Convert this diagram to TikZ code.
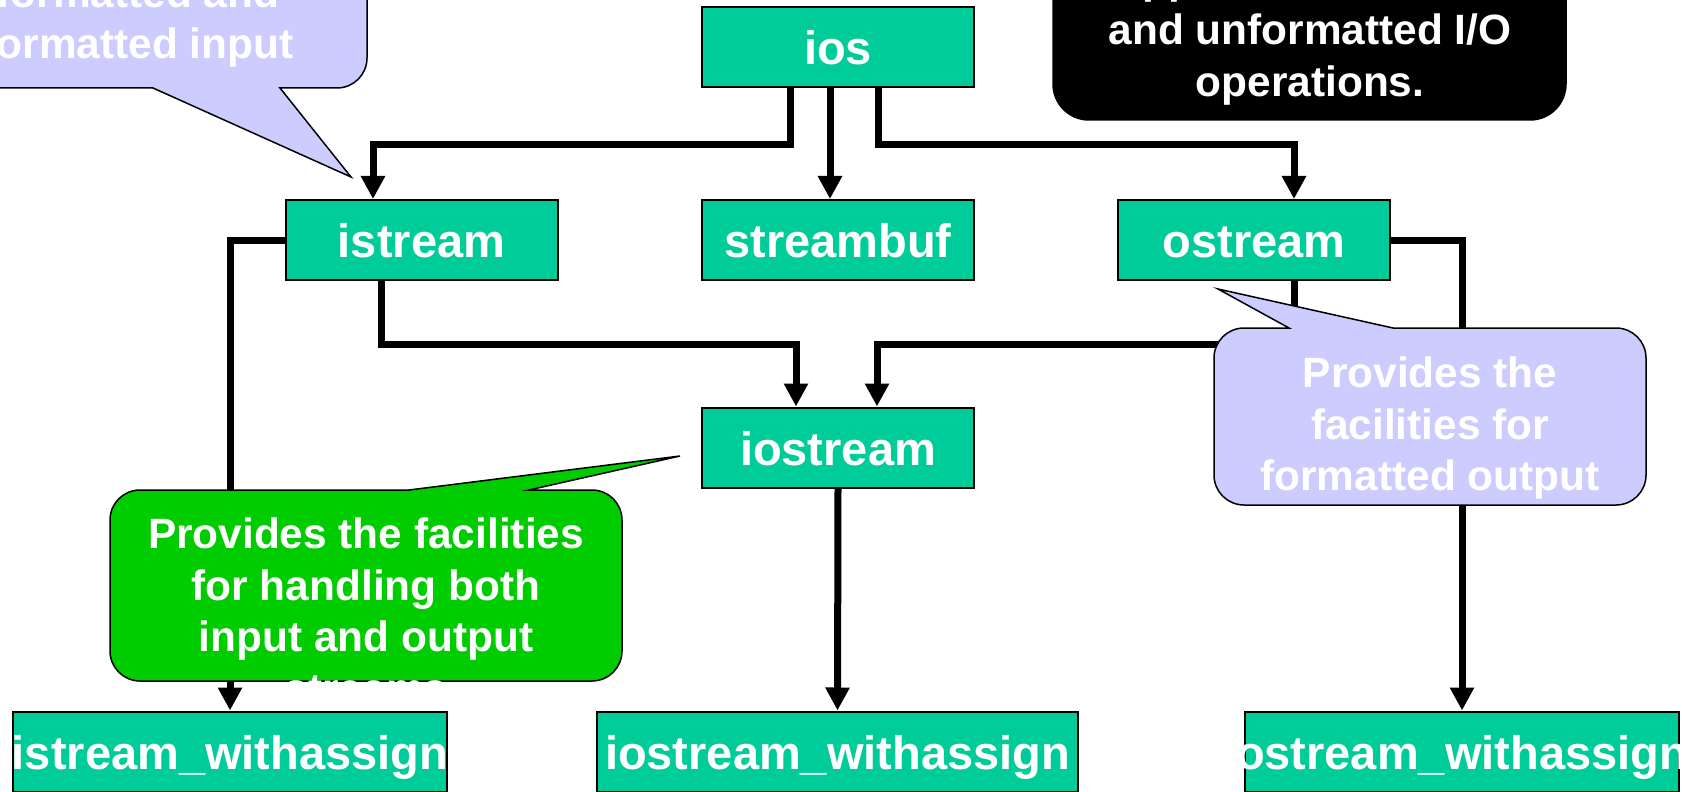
\documentclass[tikz,border=0pt]{standalone}
\usepackage{fontspec}
\setmainfont{Liberation Sans}
\usepackage{tikz}
\usetikzlibrary{arrows.meta,calc}

\definecolor{clsgreen}{HTML}{00CC99}
\definecolor{notelav}{HTML}{CCCCFF}
\definecolor{notegreen}{HTML}{00CC00}

\begin{document}
\begin{tikzpicture}[x=0.5pt,y=0.5pt,
  cls/.style={draw=black,line width=1pt,fill=clsgreen,text=white,
    font=\bfseries\fontsize{23.5}{28}\selectfont,inner sep=0pt,
    minimum width=136pt,minimum height=40pt,text height=17.5pt,text depth=0pt},
  link/.style={line width=3.5pt,-{Triangle[length=11.5pt,width=11.5pt]}},
  note/.style={draw=black,line width=0.75pt},
  notetext/.style={align=center,text=white,inner sep=0pt,
    font=\bfseries\fontsize{21.2}{25.75}\selectfont}]
  \useasboundingbox (0,0) rectangle (1682,-792);
  \clip (0,0) rectangle (1682,-792);

  % classes
  \node[cls] (ios) at (838,-47.5) {ios};
  \node[cls] (istream) at (421.5,-240) {istream};
  \node[cls] (streambuf) at (838,-240) {streambuf};
  \node[cls] (ostream) at (1254,-240) {ostream};
  \node[cls] (iostream) at (838,-447.5) {iostream};
  \node[cls,minimum width=217pt] (isw) at (230,-751.5) {\makebox[0pt]{istream\_withassign}};
  \node[cls,minimum width=240.5pt] (iosw) at (837.5,-751.5) {\makebox[0pt]{iostream\_withassign}};
  \node[cls,minimum width=217pt] (osw) at (1462,-751.5) {\makebox[0pt]{ostream\_withassign}};

  % inheritance
  \draw[link] ($(ios.south)+(-48,0)$) -- ++(0,-56) -| ($(istream.north)+(-48.5,0)$);
  \draw[link] ($(ios.south)+(-8,0)$) -- ($(streambuf.north)+(-8,0)$);
  \draw[link] ($(ios.south)+(40,0)$) -- ++(0,-56) -| ($(ostream.north)+(40,0)$);
  \draw[link] ($(istream.south)+(-40,0)$) -- ++(0,-63) -| ($(iostream.north)+(-42,0)$);
  \draw[link] ($(ostream.south)+(40,0)$) -- ++(0,-63) -| ($(iostream.north)+(39,0)$);
  \draw[link] (istream.west) -| (isw.north);
  \draw[link] (ostream.east) -| (osw.north);
  \draw[link] (iostream.south) -- (iosw.north);

  % callouts
  \draw[note,fill=notelav] (153,-88) -- (351,-177) -- (280,-88) -- (337,-88)
    arc[start angle=-90,end angle=0,radius=30] -- (367,100) -- (-150,100) -- (-150,-88) -- cycle;
  \node[notetext] (istreamnote) at (138,-22) {formatted and\\formatted input};

  \draw[note,fill=black] (1053,100) -- (1053,-84) arc[start angle=180,end angle=270,radius=36]
    -- (1530,-120) arc[start angle=270,end angle=360,radius=36] -- (1566,100) -- cycle;
  \node[notetext] (iosnote) at (1310,-34) {support for formatted\\and unformatted I/O\\operations.};

  \draw[note,fill=notelav] (1289,-328) -- (1218,-289) -- (1393,-328) -- (1616,-328)
    arc[start angle=90,end angle=0,radius=30] -- (1646,-475)
    arc[start angle=0,end angle=-90,radius=30] -- (1244,-505)
    arc[start angle=270,end angle=180,radius=30] -- (1214,-358)
    arc[start angle=180,end angle=90,radius=30] -- cycle;
  \node[notetext] (ostreamnote) at (1430,-428.5) {Provides the\\facilities for\\formatted output};

  \draw[note,fill=notegreen] (409,-490) -- (680,-456) -- (529,-490) -- (592,-490)
    arc[start angle=90,end angle=0,radius=30] -- (622,-651)
    arc[start angle=0,end angle=-90,radius=30] -- (140,-681)
    arc[start angle=270,end angle=180,radius=30] -- (110,-520)
    arc[start angle=180,end angle=90,radius=30] -- cycle;
  \node[notetext] (iostreamnote) at (366,-611) {Provides the facilities\\for handling both\\input and output\\streams};
\end{tikzpicture}
\end{document}
